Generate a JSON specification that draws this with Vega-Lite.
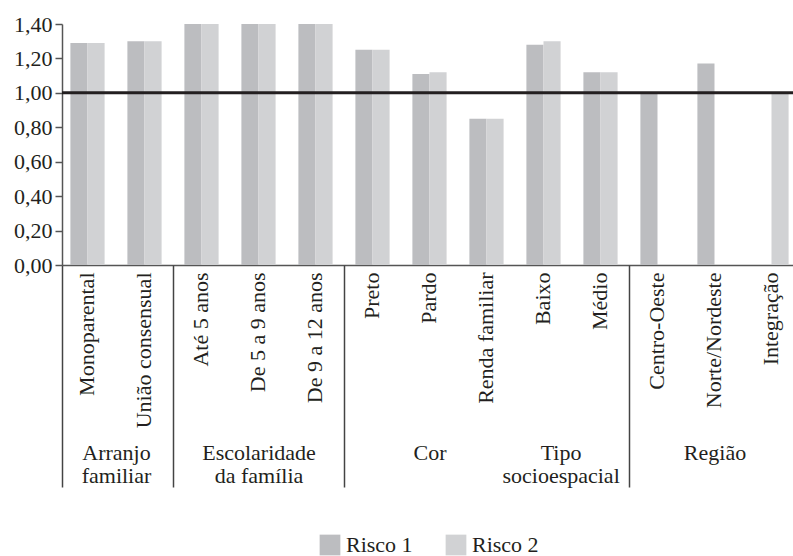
{
  "$schema": "https://vega.github.io/schema/vega-lite/v6.json",
  "width": 731,
  "height": 241,
  "autosize": {"type": "none"},
  "padding": {"left": 62, "top": 24, "right": 0, "bottom": 291},
  "config": {
    "font": "'Liberation Serif', 'Times New Roman', serif",
    "view": {"stroke": null},
    "axis": {"labelFont": "'Liberation Serif', 'Times New Roman', serif", "labelColor": "#231f20", "grid": false, "title": null},
    "axisY": {"labelOverlap": false},
    "legend": {"labelFont": "'Liberation Serif', 'Times New Roman', serif"}
  },
  "layer": [
    {
      "data": {"values": [
        {"categoria": "Monoparental", "risco": "Risco 1", "valor": 1.29},
        {"categoria": "Monoparental", "risco": "Risco 2", "valor": 1.29},
        {"categoria": "União consensual", "risco": "Risco 1", "valor": 1.30},
        {"categoria": "União consensual", "risco": "Risco 2", "valor": 1.30},
        {"categoria": "Até 5 anos", "risco": "Risco 1", "valor": 1.40},
        {"categoria": "Até 5 anos", "risco": "Risco 2", "valor": 1.40},
        {"categoria": "De 5 a 9 anos", "risco": "Risco 1", "valor": 1.40},
        {"categoria": "De 5 a 9 anos", "risco": "Risco 2", "valor": 1.40},
        {"categoria": "De 9 a 12 anos", "risco": "Risco 1", "valor": 1.40},
        {"categoria": "De 9 a 12 anos", "risco": "Risco 2", "valor": 1.40},
        {"categoria": "Preto", "risco": "Risco 1", "valor": 1.25},
        {"categoria": "Preto", "risco": "Risco 2", "valor": 1.25},
        {"categoria": "Pardo", "risco": "Risco 1", "valor": 1.11},
        {"categoria": "Pardo", "risco": "Risco 2", "valor": 1.12},
        {"categoria": "Renda familiar", "risco": "Risco 1", "valor": 0.85},
        {"categoria": "Renda familiar", "risco": "Risco 2", "valor": 0.85},
        {"categoria": "Baixo", "risco": "Risco 1", "valor": 1.28},
        {"categoria": "Baixo", "risco": "Risco 2", "valor": 1.30},
        {"categoria": "Médio", "risco": "Risco 1", "valor": 1.12},
        {"categoria": "Médio", "risco": "Risco 2", "valor": 1.12},
        {"categoria": "Centro-Oeste", "risco": "Risco 1", "valor": 1.00},
        {"categoria": "Norte/Nordeste", "risco": "Risco 1", "valor": 1.17},
        {"categoria": "Integração", "risco": "Risco 2", "valor": 1.00}
      ]},
      "mark": {"type": "bar"},
      "encoding": {
        "x": {
          "field": "categoria", "type": "nominal",
          "sort": ["Monoparental", "União consensual", "Até 5 anos", "De 5 a 9 anos", "De 9 a 12 anos", "Preto", "Pardo", "Renda familiar", "Baixo", "Médio", "Centro-Oeste", "Norte/Nordeste", "Integração"],
          "scale": {"paddingInner": 0.4, "paddingOuter": 0.1123, "align": 0.656},
          "axis": {"orient": "bottom", "labelAngle": -90, "labelAlign": "right", "labelBaseline": "middle", "labelFontSize": 22, "labelPadding": 7, "ticks": false, "domainColor": "#555555", "domainWidth": 1.5, "labelOverlap": false, "labelBound": false}
        },
        "xOffset": {"field": "risco", "type": "nominal", "scale": {"domain": ["Risco 1", "Risco 2"], "paddingInner": 0, "paddingOuter": 0}},
        "y": {
          "field": "valor", "type": "quantitative",
          "scale": {"domain": [0, 1.4], "nice": false},
          "axis": {"values": [0, 0.2, 0.4, 0.6, 0.8, 1.0, 1.2, 1.4], "labelExpr": "replace(format(datum.value, '.2f'), '.', ',')", "labelFontSize": 22, "labelOverlap": false, "labelBound": false, "labelFlush": false, "tickSize": 7, "tickColor": "#555555", "tickWidth": 1.5, "domainColor": "#555555", "domainWidth": 1.5, "labelPadding": 3}
        },
        "color": {
          "field": "risco", "type": "nominal",
          "scale": {"domain": ["Risco 1", "Risco 2"], "range": ["#bcbdc0", "#d1d2d4"]},
          "legend": {"title": null, "orient": "none", "legendX": 257, "legendY": 510, "direction": "horizontal", "symbolType": "square", "symbolSize": 430, "symbolStrokeWidth": 0, "labelFontSize": 22, "labelColor": "#231f20", "labelOffset": 5, "columnPadding": 32}
        }
      }
    },
    {
      "data": {"values": [{"valor": 1}]},
      "mark": {"type": "rule", "color": "#231f20", "strokeWidth": 3},
      "encoding": {
        "y": {
          "field": "valor", "type": "quantitative",
          "scale": {"domain": [0, 1.4], "nice": false},
          "axis": {"values": [0, 0.2, 0.4, 0.6, 0.8, 1.0, 1.2, 1.4], "labelExpr": "replace(format(datum.value, '.2f'), '.', ',')", "labelFontSize": 22, "labelOverlap": false, "labelBound": false, "labelFlush": false, "tickSize": 7, "tickColor": "#555555", "tickWidth": 1.5, "domainColor": "#555555", "domainWidth": 1.5, "labelPadding": 3}
        }
      }
    },
    {
      "data": {"values": [{"limite": -0.4474}, {"limite": 1.5}, {"limite": 4.5}, {"limite": 9.5}]},
      "mark": {"type": "rule", "opacity": 0},
      "encoding": {
        "x": {
          "field": "limite", "type": "quantitative",
          "scale": {"domain": [-0.4474, 12.3772], "nice": false, "zero": false},
          "axis": {"orient": "bottom", "values": [-0.4474, 1.5, 4.5, 9.5], "labels": false, "domain": false, "tickSize": 222, "tickColor": "#444444", "tickWidth": 1.5}
        }
      }
    },
    {
      "data": {"values": [
        {"grupo": "Arranjo familiar", "centro": 0.5},
        {"grupo": "Escolaridade da família", "centro": 3},
        {"grupo": "Cor", "centro": 6},
        {"grupo": "Tipo socioespacial", "centro": 8.3},
        {"grupo": "Região", "centro": 11}
      ]},
      "mark": {"type": "point", "opacity": 0},
      "encoding": {
        "x": {
          "field": "centro", "type": "quantitative",
          "scale": {"domain": [-0.4474, 12.3772], "nice": false, "zero": false},
          "axis": {"orient": "bottom", "values": [0.5, 3, 6, 8.3, 11], "labelExpr": "datum.value == 0.5 ? ['Arranjo', 'familiar'] : datum.value == 3 ? ['Escolaridade', 'da família'] : datum.value == 6 ? 'Cor' : datum.value < 9 ? ['Tipo', 'socioespacial'] : 'Região'", "domain": false, "ticks": false, "labelPadding": 177, "labelBaseline": "top", "labelAlign": "center", "labelFontSize": 22, "labelLineHeight": 23, "labelOverlap": false, "labelBound": false}
        }
      }
    }
  ],
  "resolve": {"scale": {"x": "independent"}, "axis": {"x": "independent"}}
}
